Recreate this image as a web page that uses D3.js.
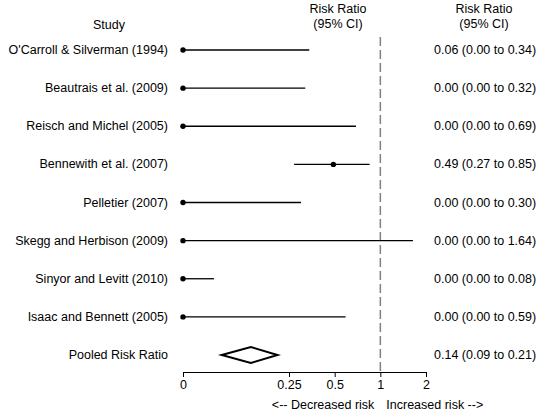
<!DOCTYPE html>
<html>
<head>
<meta charset="utf-8">
<script src="https://cdn.jsdelivr.net/npm/d3@7"></script>
<style>
  body { margin: 0; background: #fff; }
  text { font-family: "Liberation Sans", Arial, sans-serif; font-size: 12.5px; fill: #000; }
</style>
</head>
<body>
<svg width="537" height="413"></svg>
<script>
const width = 537;
const height = 413;

// studies, top to bottom
const studies = ["O'Carroll & Silverman (1994)", "Beautrais et al. (2009)", "Reisch and Michel (2005)",
  "Bennewith et al. (2007)", "Pelletier (2007)", "Skegg and Herbison (2009)",
  "Sinyor and Levitt (2010)", "Isaac and Bennett (2005)"];
// point estimates as drawn, lower and upper CI
const est = [0, 0, 0, 0.49, 0, 0, 0, 0];
const lower = [0, 0, 0, 0.27, 0, 0, 0, 0];
const upper = [0.34, 0.32, 0.69, 0.85, 0.30, 1.64, 0.08, 0.59];
const ciText = ["0.06 (0.00 to 0.34)", "0.00 (0.00 to 0.32)", "0.00 (0.00 to 0.69)",
  "0.49 (0.27 to 0.85)", "0.00 (0.00 to 0.30)", "0.00 (0.00 to 1.64)",
  "0.00 (0.00 to 0.08)", "0.00 (0.00 to 0.59)"];
const pooledLabel = "Pooled Risk Ratio";
const pooled = [0.14, 0.09, 0.21];
const pooledText = "0.14 (0.09 to 0.21)";
const tickVals = [0, 0.25, 0.5, 1, 2];
const zeroAt = 0.05; // where "0" sits on the log axis

const svg = d3.select('svg');

const x = d3.scaleLog().base(2)
  .domain([zeroAt, 2])
  .range([183, 426])
  .clamp(true);
const xv = v => x(Math.max(v, zeroAt));

const rows = studies.concat([pooledLabel]);
const y = d3.scalePoint()
  .domain(rows)
  .range([50, 355]);

// headers
svg.append('text').attr('x', 109).attr('y', 29).attr('text-anchor', 'middle').text('Study');
const h1 = svg.append('text').attr('x', 338).attr('text-anchor', 'middle');
h1.append('tspan').attr('x', 338).attr('y', 13).text('Risk Ratio');
h1.append('tspan').attr('x', 338).attr('y', 28).text('(95% CI)');
const h2 = svg.append('text').attr('x', 484).attr('text-anchor', 'middle');
h2.append('tspan').attr('x', 484).attr('y', 13).text('Risk Ratio');
h2.append('tspan').attr('x', 484).attr('y', 28).text('(95% CI)');

// reference line at 1
svg.append('line')
  .attr('x1', x(1)).attr('x2', x(1))
  .attr('y1', 37).attr('y2', 372)
  .attr('stroke', '#808080')
  .attr('stroke-width', 1.5)
  .attr('stroke-dasharray', '9,4');

// study rows
const g = svg.append('g');
studies.forEach((s, i) => {
  const yy = y(s);
  g.append('text').attr('x', 168).attr('y', yy + 4).attr('text-anchor', 'end').text(s);
  g.append('line')
    .attr('x1', xv(lower[i])).attr('x2', xv(upper[i]))
    .attr('y1', yy).attr('y2', yy)
    .attr('stroke', '#000').attr('stroke-width', 1.3);
  g.append('circle')
    .attr('cx', xv(est[i])).attr('cy', yy).attr('r', 2.7)
    .attr('fill', '#000');
  g.append('text').attr('x', 434).attr('y', yy + 4).text(ciText[i]);
});

// pooled
const py = y(pooledLabel);
svg.append('text').attr('x', 168).attr('y', py + 4).attr('text-anchor', 'end').text(pooledLabel);
svg.append('path')
  .attr('d', d3.line()([[xv(pooled[1]), py], [xv(pooled[0]), py - 8], [xv(pooled[2]), py], [xv(pooled[0]), py + 8]]) + 'Z')
  .attr('fill', '#fff').attr('stroke', '#000').attr('stroke-width', 2);
svg.append('text').attr('x', 434).attr('y', py + 4).text(pooledText);

// axis
const axis = d3.axisBottom(x)
  .tickValues(tickVals.map(v => Math.max(v, zeroAt)))
  .tickFormat((d, i) => String(tickVals[i]))
  .tickSize(5)
  .tickSizeOuter(0);
const ax = svg.append('g').attr('transform', 'translate(0,372)').call(axis);
ax.selectAll('text').style('font-size', '12.5px').style('font-family', '"Liberation Sans", Arial, sans-serif').attr('fill', '#000');
ax.selectAll('line, path').attr('stroke', '#000');

svg.append('text').attr('x', x(1) - 6).attr('y', 409).attr('text-anchor', 'end').text('<-- Decreased risk');
svg.append('text').attr('x', x(1) + 6).attr('y', 409).text('Increased risk -->');
</script>
</body>
</html>
